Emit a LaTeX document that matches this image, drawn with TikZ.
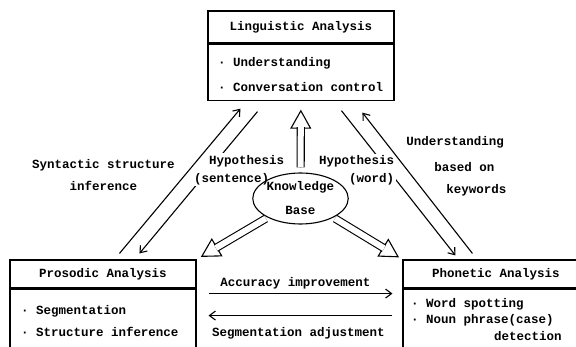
\documentclass[tikz,border=0pt]{standalone}
\usepackage{fontspec}
\newfontfamily\typewriter{Liberation Mono}
\usetikzlibrary{arrows.meta,positioning,shapes.geometric}

\begin{document}
\begin{tikzpicture}[x=1pt,y=-1pt,line width=1.1pt,
font=\typewriter\bfseries\fontsize{12.5pt}{15pt}\selectfont,
panel/.style={draw,inner sep=0pt,minimum width=186pt,minimum height=#1},
panelbody/.style={draw,inner sep=0pt,minimum width=186pt,minimum height=#1},
items/.style={align=left,anchor=north west,inner sep=0pt},
kbase/.style={draw,ellipse,inner sep=0pt,minimum width=93pt,minimum height=51pt,align=center},
arr/.style={-{Straight Barb[length=6pt,width=9pt]}},
fathead/.style={-{Triangle[open,fill=white,length=19pt,width=21pt]}},
fatshaft/.style={double,double distance=6pt},
lbl/.style={align=left,inner sep=1.5pt}]
\useasboundingbox (0,0) rectangle (576,347);
\clip (0,0) rectangle (576,347);
\node[panel=32pt](ling) at (301,27){Linguistic Analysis};
\node[panelbody=56pt,below=0pt of ling](lingbody){};
\node[items](lingitems) at ([xshift=10pt,yshift=-13pt]lingbody.north west){· Understanding\\[10pt]· Conversation control};
\node[panel=28pt](pros) at (103,274){Prosodic Analysis};
\node[panelbody=80pt,below=0pt of pros](prosbody){};
\node[items](prositems) at ([xshift=11pt,yshift=-16pt]prosbody.north west){· Segmentation\\[7pt]· Structure inference};
\node[panel=28pt](phon) at (496,274){Phonetic Analysis};
\node[panelbody=80pt,below=0pt of phon](phonbody){};
\node[items](phonitems) at ([xshift=8pt,yshift=-9pt]phonbody.north west){· Word spotting\\[1.5pt]· Noun phrase(case)\\[1.5pt]\hspace*{83pt}detection};
\draw[arr]([xshift=50pt,yshift=-11pt]lingbody.south west)--node[lbl,pos=0.41,xshift=30pt,fill=white]{\hspace*{15pt}Hypothesis\\[3pt](sentence)}([xshift=130pt,yshift=6pt]pros.north west);
\draw[arr]([xshift=134pt,yshift=-10pt]lingbody.south west)--node[lbl,pos=0.41,xshift=-31.5pt,fill=white,align=right]{Hypothesis\\[3pt](word)}([xshift=53pt,yshift=4pt]phon.north west);
\draw[arr]([xshift=110pt,yshift=6pt]pros.north west)--node[lbl,pos=0.54,left=8pt,align=center]{Syntactic structure\\[7pt]inference}([xshift=33pt,yshift=-8pt]lingbody.south west);
\draw[arr]([xshift=70pt,yshift=6pt]phon.north west)--node[lbl,pos=0.62,right=0pt]{Understanding\\[11pt]\hspace*{28pt}based on\\[7pt]\hspace*{40pt}keywords}([xshift=155pt,yshift=-12pt]lingbody.south west);
\node[kbase](kb) at (300.5,198.5){Knowledge\\[9pt]Base};
\draw[fathead,shorten <=5pt,shorten >=9pt](kb)--(lingbody);
\draw[fatshaft,shorten <=5pt,shorten >=26.5pt](kb)--(lingbody);
\draw[fathead,shorten <=2pt,shorten >=5pt](kb.210)--(pros.north east);
\draw[fatshaft,shorten <=2pt,shorten >=22.5pt](kb.210)--(pros.north east);
\draw[fathead,shorten <=2pt,shorten >=4pt](kb.-30)--(phon.north west);
\draw[fatshaft,shorten <=2pt,shorten >=21.5pt](kb.-30)--(phon.north west);
\draw[arr]([xshift=12pt,yshift=-5pt]prosbody.north east)--node[lbl,above=2pt,xshift=-5pt]{Accuracy improvement}([xshift=-10pt,yshift=-5pt]phonbody.north west);
\draw[arr]([xshift=-10pt,yshift=-27pt]phonbody.north west)--node[lbl,below=10pt,xshift=-2pt]{Segmentation adjustment}([xshift=12pt,yshift=-27pt]prosbody.north east);
\end{tikzpicture}
\end{document}
